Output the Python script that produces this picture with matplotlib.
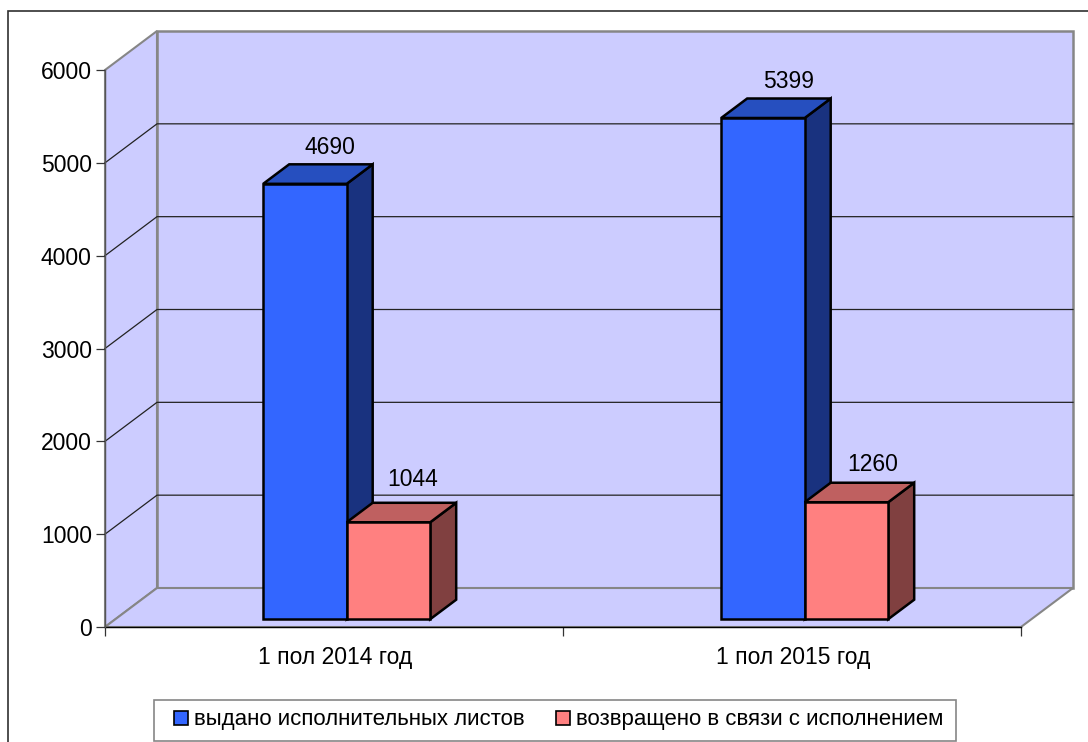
import matplotlib
matplotlib.use("Agg")
import matplotlib.pyplot as plt
from matplotlib.patches import Polygon, Rectangle

plt.rcParams['font.family'] = ['Liberation Sans', 'DejaVu Sans']

categories = ["1 пол 2014 год", "1 пол 2015 год"]
series_names = ["выдано исполнительных листов", "возвращено в связи с исполнением"]
issued = [4690, 5399]
returned = [1044, 1260]
y_ticks = [0, 1000, 2000, 3000, 4000, 5000, 6000]

W, H = 1088, 742
FONT = 16.5

# oblique "3d": one unit of depth moves a point right and up
DX = 52 / 458
DY = 39 / (557 / 6000)
BAR_W = 83.5 / 458
BAR_START = 0.2
BAR_DEPTH = 0.5

# small nudges for the red value labels, in points
RED_LABEL_UP = [8.5, 5]
RED_LABEL_RIGHT = [-1, 0.5]


def proj(x, v, d):
    return (x + d * DX, v + d * DY)


def face(ax, pts, color, ec="none", lw=0, z=1):
    ax.add_patch(Polygon([proj(*p) for p in pts], closed=True, facecolor=color,
                         edgecolor=ec, linewidth=lw, zorder=z, clip_on=False,
                         joinstyle="miter"))


def bar3d(ax, x0, x1, v, front, top, side, z):
    d0, d1 = BAR_START, BAR_START + BAR_DEPTH
    face(ax, [(x1, 0, d0), (x1, 0, d1), (x1, v, d1), (x1, v, d0)], side, "black", 1.8, z)
    face(ax, [(x0, v, d0), (x1, v, d0), (x1, v, d1), (x0, v, d1)], top, "black", 1.8, z)
    face(ax, [(x0, 0, d0), (x1, 0, d0), (x1, v, d0), (x0, v, d0)], front, "black", 1.8, z)


fig = plt.figure(figsize=(W / 100, H / 100), dpi=100)
fig.add_artist(Rectangle((8 / W, -0.02), 1.02, 1.02 - 11 / H, transform=fig.transFigure,
                         facecolor="white", edgecolor="#303030", linewidth=1.2, zorder=-1))

ax = fig.add_axes([105 / W, 1 - 627 / H, 916 / W, 557 / H])
ax.set_xlim(0, 2)
ax.set_ylim(0, 6000)
ax.patch.set_visible(False)
for s in ax.spines.values():
    s.set_visible(False)

wall = "#CCCCFF"
grey = "#868686"
# back wall, side wall, floor
face(ax, [(0, 0, 1), (2, 0, 1), (2, 6000, 1), (0, 6000, 1)], wall, grey, 1.8)
face(ax, [(0, 0, 0), (0, 0, 1), (0, 6000, 1), (0, 6000, 0)], wall, grey, 1.5)
face(ax, [(0, 0, 0), (2, 0, 0), (2, 0, 1), (0, 0, 1)], wall, grey, 1.5)

for t in y_ticks[1:-1]:
    xs, ys = zip(proj(0, t, 0), proj(0, t, 1), proj(2, t, 1))
    ax.plot(xs, ys, color="#222222", lw=0.9, zorder=2, clip_on=False)

ax.plot([0, 2], [0, 0], color="black", lw=1.0, zorder=2, clip_on=False)
ax.plot([0, 0], [0, 6000], color="#555555", lw=1.0, zorder=2, clip_on=False)

ax.set_xticks([0, 1, 2])
ax.set_xticklabels([])
ax.set_yticks(y_ticks)
ax.tick_params(axis="both", length=6.5, width=0.9, color="#333333", labelsize=FONT, pad=3)

for i in range(len(categories)):
    cx = i + 0.5 + 0.005
    bar3d(ax, cx - BAR_W, cx, issued[i], "#3366FF", "#264FBF", "#19327F", 3 + i * 2)
    bar3d(ax, cx, cx + BAR_W, returned[i], "#FF8080", "#BF6060", "#804040", 4 + i * 2)
    ax.annotate(str(issued[i]), proj(cx - BAR_W / 2, issued[i], BAR_START + BAR_DEPTH),
                xytext=(-0.5, 4), textcoords="offset points", ha="center", va="bottom",
                fontsize=FONT, zorder=10)
    ax.annotate(str(returned[i]), proj(cx + BAR_W / 2, returned[i], BAR_START + BAR_DEPTH),
                xytext=(RED_LABEL_RIGHT[i], RED_LABEL_UP[i]), textcoords="offset points",
                ha="center", va="bottom", fontsize=FONT, zorder=10)
    ax.annotate(categories[i], (i + 0.5, 0), xytext=(1, -13.5), textcoords="offset points",
                ha="center", va="top", fontsize=FONT)

# legend box is wider than its padding would make it, so frame drawn separately
fig.add_artist(Rectangle((154 / W, 1 - 741 / H), 802 / W, 41 / H, transform=fig.transFigure,
                         facecolor="white", edgecolor=grey, linewidth=1.2, zorder=4))
handles = [Rectangle((0, 0), 1, 1, facecolor="#3366FF", edgecolor="black", linewidth=1.2),
           Rectangle((0, 0), 1, 1, facecolor="#FF8080", edgecolor="black", linewidth=1.2)]
leg = fig.legend(handles, series_names, ncol=2, loc="center",
                 bbox_to_anchor=(559 / W, 1 - 720 / H), fontsize=16, frameon=False,
                 handlelength=0.6, handleheight=0.6, handletextpad=0.3,
                 columnspacing=1.4, borderpad=0, borderaxespad=0)
leg.set_zorder(5)

fig.savefig("out.png", dpi=100)
